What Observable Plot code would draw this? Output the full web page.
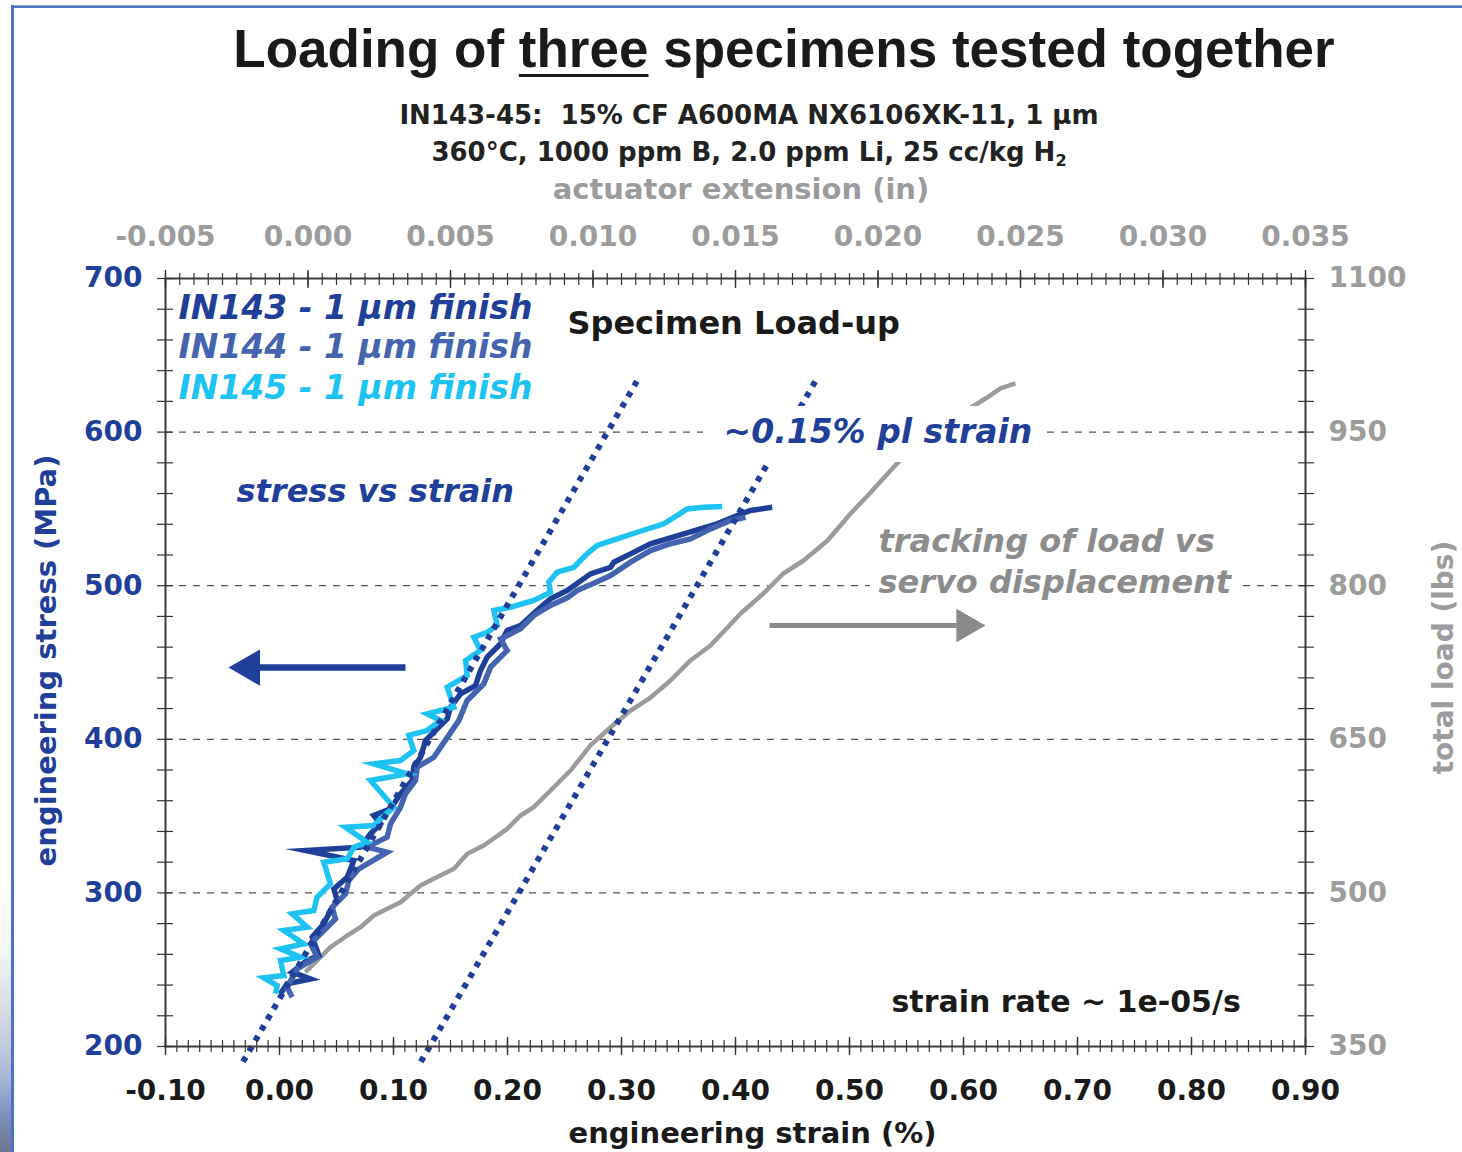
<!DOCTYPE html>
<html>
<head>
<meta charset="utf-8">
<script src="https://cdn.jsdelivr.net/npm/d3@7"></script>
<script src="https://cdn.jsdelivr.net/npm/@observablehq/plot@0.6"></script>
<style>
  html, body { margin: 0; padding: 0; background: #fff; }
  #wrap { position: relative; width: 1462px; height: 1152px; overflow: hidden; background: #fff; }
  .t { position: absolute; white-space: nowrap; line-height: 1; }
  .c { transform: translateX(-50%); }
  #chart { position: absolute; left: 0; top: 0; }
</style>
</head>
<body>
<div id="wrap">
  <div style="position:absolute;left:11px;top:5px;width:1451px;height:3px;background:#4a74c4;border-top:1px solid #8fa9dc;box-sizing:border-box;"></div>
  <div style="position:absolute;left:0;top:880px;width:11px;height:272px;background:linear-gradient(to bottom,#ffffff 0%,#f2f5fb 25%,#d6d9e2 50%,#a9b9da 72%,#8193c0 85%,#6b7590 100%);"></div>
  <div style="position:absolute;left:11px;top:5px;width:3px;height:1147px;background:#4a74c4;"></div>
  <div id="chart"></div>
  <div class="t c" style="left:784px;top:22px;font-family:'Liberation Sans';font-weight:bold;font-size:53px;color:#1a1a1a;">Loading of <span style="text-decoration:underline;text-decoration-thickness:3px;text-underline-offset:7px;">three</span> specimens tested together</div>
  <div class="t c" style="left:749px;top:102px;font-family:'DejaVu Sans';font-weight:bold;font-size:26px;color:#222;">IN143-45:&nbsp; 15% CF A600MA NX6106XK-11, 1 µm</div>
  <div class="t c" style="left:749px;top:139px;font-family:'DejaVu Sans';font-weight:bold;font-size:26px;color:#222;">360°C, 1000 ppm B, 2.0 ppm Li, 25 cc/kg H<span style="font-size:0.62em;position:relative;top:0.3em;">2</span></div>
  <div class="t c" style="left:741px;top:175px;font-family:'DejaVu Sans';font-weight:bold;font-size:29px;color:#9b9b9b;">actuator extension (in)</div>
</div>
<script>
// ---------- axis ticks ----------
const strainTicks = [-0.10, 0.00, 0.10, 0.20, 0.30, 0.40, 0.50, 0.60, 0.70, 0.80, 0.90];
const stressTicks = [200, 300, 400, 500, 600, 700];
const extTicks = [-0.005, 0.000, 0.005, 0.010, 0.015, 0.020, 0.025, 0.030, 0.035];
const loadTicks = [350, 500, 650, 800, 950, 1100];
const gridStress = [300, 400, 500, 600];

// ---------- series: engineering strain (%) / engineering stress (MPa) ----------
const in143Strain = [0.0009,0.0067,0.0272,0.0111,0.0243,0.0345,0.0287,0.0389,0.0447,0.0506,0.0477,0.0594,0.0652,0.0228,0.0711,0.0798,0.0886,0.0827,0.0974,0.1061,0.1164,0.1178,0.1237,0.1281,0.1383,0.1471,0.1500,0.1588,0.1719,0.1763,0.1822,0.1939,0.1997,0.2114,0.2260,0.2377,0.2524,0.2728,0.2904,0.2933,0.3079,0.3254,0.3547,0.3839,0.4015,0.4132,0.4322];
const in143Stress = [234.3,240.8,244.0,248.4,256.0,259.2,271.2,279.9,288.5,295.0,302.6,310.2,321.0,327.6,329.8,338.5,345.0,350.4,354.7,364.5,373.2,381.9,388.3,399.2,406.8,413.3,420.9,429.6,435.0,444.8,453.5,462.2,470.8,474.1,483.9,491.4,496.9,507.7,512.0,515.3,520.7,527.3,533.8,540.3,545.7,549.0,551.1];

const in144Strain = [0.0111,0.0067,0.0155,0.0330,0.0272,0.0389,0.0491,0.0462,0.0579,0.0608,0.0696,0.0944,0.0769,0.0944,0.0974,0.1061,0.1105,0.1193,0.1208,0.1354,0.1442,0.1573,0.1646,0.1792,0.1851,0.1997,0.1939,0.2114,0.2231,0.2377,0.2524,0.2611,0.2757,0.2904,0.3079,0.3254,0.3430,0.3605,0.3781,0.3956,0.4088];
const in144Stress = [232.1,238.6,250.6,258.2,266.8,275.5,283.1,290.7,299.4,308.1,315.7,326.5,329.8,336.3,345.0,355.8,364.5,373.2,381.9,388.3,398.0,412.2,425.3,436.1,447.0,457.8,465.4,471.9,480.6,487.1,492.1,496.9,501.6,506.6,515.3,522.9,527.3,530.5,537.0,542.4,544.6];

const in145Strain = [-0.0035,-0.0020,-0.0137,0.0038,0.0009,0.0184,0.0009,0.0213,0.0038,0.0243,0.0111,0.0301,0.0330,0.0447,0.0389,0.0594,0.0652,0.0769,0.0579,0.0827,0.0886,0.1003,0.0798,0.1120,0.0827,0.1061,0.1178,0.1134,0.1295,0.1412,0.1295,0.1529,0.1471,0.1646,0.1632,0.1763,0.1705,0.1822,0.1910,0.1880,0.2026,0.2231,0.2377,0.2362,0.2436,0.2582,0.2699,0.2787,0.2962,0.3138,0.3371,0.3488,0.3576,0.3722,0.3883];
const in145Stress = [234.3,239.7,244.7,246.2,256.0,258.2,263.6,266.8,275.5,277.7,286.4,288.5,297.2,305.9,320.0,322.2,329.8,333.0,342.8,343.9,348.2,355.8,373.2,377.5,384.0,386.2,392.7,402.5,405.7,412.2,416.6,420.9,433.9,441.5,451.3,457.8,466.5,469.7,474.1,483.9,486.0,490.4,495.8,502.3,508.8,512.0,520.8,526.2,530.5,534.8,540.3,545.7,550.0,551.1,551.6];

// ---------- series: actuator extension (in) / total load (lbs) ----------
const actExt = [-0.00009,0.00044,0.00079,0.00138,0.00184,0.00231,0.00278,0.00325,0.00360,0.00395,0.00441,0.00512,0.00559,0.00617,0.00699,0.00746,0.00792,0.00851,0.00921,0.00991,0.01061,0.01132,0.01202,0.01272,0.01342,0.01412,0.01472,0.01518,0.01598,0.01668,0.01739,0.01823,0.01904,0.01974,0.02044,0.02132,0.02254,0.02377,0.02430,0.02482];
const actLoad = [422.6,437.2,447.0,458.4,466.5,477.9,484.5,490.9,499.1,507.2,513.8,523.5,538.2,546.3,562.6,575.6,583.7,600.0,619.5,644.0,661.5,678.1,690.8,707.4,727.0,741.6,759.2,772.8,792.4,811.9,824.6,844.1,870.5,891.0,912.5,938.9,961.3,982.8,992.6,997.5];

// ---------- elastic loading lines ----------
const elasticStrain = [-0.032, 0.315];
const elasticStress = [190, 635];
const offsetStrain = [0.124, 0.470];
const offsetStress = [190, 633];

// ---------- secondary axis mapping ----------
const extToStrain = e => -0.10 + (e + 0.005) * 25;
const strainToExt = s => (s + 0.10) / 25 - 0.005;
const loadToStress = l => 200 + (l - 350) / 1.5;
const stressToLoad = s => 350 + (s - 200) * 1.5;

const navy = "#1f3f99", mid = "#4464b0", cyan = "#1ec3f3", grayLine = "#9b9b9b", grayText = "#8c8c8c", axisGray = "#9c9c9c";

const pts = (xs, ys) => xs.map((x, i) => ({x, y: ys[i]}));
const s143 = pts(in143Strain, in143Stress);
const s144 = pts(in144Strain, in144Stress);
const s145 = pts(in145Strain, in145Stress);
const act = actExt.map((e, i) => ({x: extToStrain(e), y: loadToStress(actLoad[i])}));
const el1 = pts(elasticStrain, elasticStress);
const el2 = pts(offsetStrain, offsetStress);

const strainMinor = d3.range(0, 101).map(i => -0.10 + i * 0.01);
const extMinor = d3.range(0, 81).map(i => extToStrain(-0.005 + i * 0.0005));
const stressMinor = d3.range(0, 26).map(i => 200 + i * 20);

const fnt = "DejaVu Sans";
const note = (label, x, y, opts) => Plot.text([label], {x: () => x, y: () => y, text: d => d, textAnchor: "start", lineAnchor: "middle", fontFamily: fnt, fontWeight: "bold", ...opts});
const curve = {x: "x", y: "y", strokeWidth: 5.5, strokeLinejoin: "miter", strokeMiterlimit: 10, strokeLinecap: "butt"};
const dotted = {x: "x", y: "y", stroke: navy, strokeWidth: 6, strokeDasharray: "5.5,6.7", strokeLinecap: "butt"};

const chart = Plot.plot({
  width: 1462,
  height: 1152,
  marginLeft: 165,
  marginRight: 157,
  marginTop: 278,
  marginBottom: 106,
  x: {domain: [-0.10, 0.90]},
  y: {domain: [200, 700]},
  style: {fontFamily: fnt, background: "transparent", overflow: "visible"},
  marks: [
    Plot.ruleY(gridStress, {stroke: "#555", strokeWidth: 1.3, strokeDasharray: "7,7"}),
    // white box behind "tracking" note
    Plot.rect([0], {x1: () => 0.518, x2: () => 0.840, y1: () => 490, y2: () => 542, fill: "white"}),
    Plot.line(act, {x: "x", y: "y", stroke: grayLine, strokeWidth: 4.5, strokeLinejoin: "round", strokeLinecap: "butt"}),
    Plot.line(s143, {...curve, stroke: navy}),
    Plot.line(s144, {...curve, stroke: mid}),
    Plot.line(s145, {...curve, stroke: cyan}),
    Plot.line(el1, dotted),
    Plot.line(el2, dotted),
    // white box behind "~0.15% pl strain"
    Plot.rect([0], {x1: () => 0.372, x2: () => 0.672, y1: () => 580.2, y2: () => 616.7, fill: "white"}),
    // frame and ticks
    Plot.frame({stroke: "#3c3c3c", strokeWidth: 2}),
    Plot.axisX(strainMinor, {anchor: "bottom", tickSize: 12, dy: -6, tickFormat: () => "", color: "#333", strokeWidth: 1.2, label: null}),
    Plot.axisX(strainTicks, {anchor: "bottom", tickSize: 18, dy: -9, tickFormat: () => "", color: "#333", strokeWidth: 1.4, label: null}),
    Plot.axisX(strainTicks, {anchor: "bottom", tickSize: 0, tickPadding: 34, tickFormat: d => (Math.abs(d) < 1e-9 ? 0 : d).toFixed(2), color: "#1a1a1a", fontSize: 28, fontWeight: "bold", label: null}),
    Plot.axisX(extMinor, {anchor: "top", tickSize: 12, dy: 6, tickFormat: () => "", color: "#333", strokeWidth: 1.2, label: null}),
    Plot.axisX(extTicks.map(extToStrain), {anchor: "top", tickSize: 18, dy: 9, tickFormat: () => "", color: "#333", strokeWidth: 1.4, label: null}),
    Plot.axisX(extTicks.map(extToStrain), {anchor: "top", tickSize: 0, tickPadding: 33, tickFormat: d => { const e = Math.round(strainToExt(d) * 1e5) / 1e5; return (e === 0 ? 0 : e).toFixed(3); }, color: axisGray, fontSize: 28, fontWeight: "bold", label: null}),
    Plot.axisY(stressMinor, {anchor: "left", tickSize: 16, dx: 8, tickFormat: () => "", color: "#333", strokeWidth: 1.2, label: null}),
    Plot.axisY(stressTicks, {anchor: "left", tickSize: 0, tickPadding: 23, tickFormat: d => String(d), color: navy, fontSize: 28, fontWeight: "bold", label: null}),
    Plot.axisY(stressMinor, {anchor: "right", tickSize: 16, dx: -8, tickFormat: () => "", color: "#333", strokeWidth: 1.2, label: null}),
    Plot.axisY(loadTicks.map(loadToStress), {anchor: "right", tickSize: 0, tickPadding: 23, tickFormat: d => String(Math.round(stressToLoad(d))), color: axisGray, fontSize: 28, fontWeight: "bold", label: null}),
    // axis titles
    Plot.text(["engineering strain (%)"], {frameAnchor: "bottom", dx: 17, dy: 87, textAnchor: "middle", lineAnchor: "middle", text: d => d, fontFamily: fnt, fontWeight: "bold", fontSize: 29, fill: "#1a1a1a"}),
    Plot.text(["engineering stress (MPa)"], {frameAnchor: "left", dx: -119, dy: -2, rotate: -90, textAnchor: "middle", lineAnchor: "middle", text: d => d, fontFamily: fnt, fontWeight: "bold", fontSize: 29, fill: navy}),
    Plot.text(["total load (lbs)"], {frameAnchor: "right", dx: 139, dy: -5, rotate: -90, textAnchor: "middle", lineAnchor: "middle", text: d => d, fontFamily: fnt, fontWeight: "bold", fontSize: 28, fill: axisGray}),
    // arrows
    Plot.link([0], {x1: () => 0.1105, x2: () => -0.018, y1: () => 446.7, y2: () => 446.7, stroke: navy, strokeWidth: 6.5, strokeLinecap: "butt"}),
    Plot.dot([0], {x: () => -0.0263, y: () => 446.7, symbol: "triangle", r: 13.5, rotate: -90, fill: navy, stroke: "none"}),
    Plot.link([0], {x1: () => 0.4298, x2: () => 0.594, y1: () => 474.1, y2: () => 474.1, stroke: "#8a8a8a", strokeWidth: 5, strokeLinecap: "butt"}),
    Plot.dot([0], {x: () => 0.6023, y: () => 474.1, symbol: "triangle", r: 12.5, rotate: 90, fill: "#8a8a8a", stroke: "none"}),
    // notes
    note("IN143 - 1 µm finish", -0.0886, 680.5, {fontSize: 33, fontStyle: "italic", fill: navy}),
    note("IN144 - 1 µm finish", -0.0886, 654.8, {fontSize: 33, fontStyle: "italic", fill: mid}),
    note("IN145 - 1 µm finish", -0.0886, 628.4, {fontSize: 33, fontStyle: "italic", fill: cyan}),
    note("Specimen Load-up", 0.2526, 670.7, {fontSize: 32, fill: "#1a1a1a"}),
    note("stress vs strain", -0.0377, 561.3, {fontSize: 32, fontStyle: "italic", fill: navy}),
    note("~0.15% pl strain", 0.3895, 599.7, {fontSize: 33, fontStyle: "italic", fill: navy}),
    note("tracking of load vs", 0.5254, 528.8, {fontSize: 32, fontStyle: "italic", fill: grayText}),
    note("servo displacement", 0.5254, 502.1, {fontSize: 32, fontStyle: "italic", fill: grayText}),
    note("strain rate ~ 1e-05/s", 0.5368, 228.6, {fontSize: 30, fill: "#1a1a1a"})
  ]
});
document.getElementById("chart").appendChild(chart);
</script>
</body>
</html>
